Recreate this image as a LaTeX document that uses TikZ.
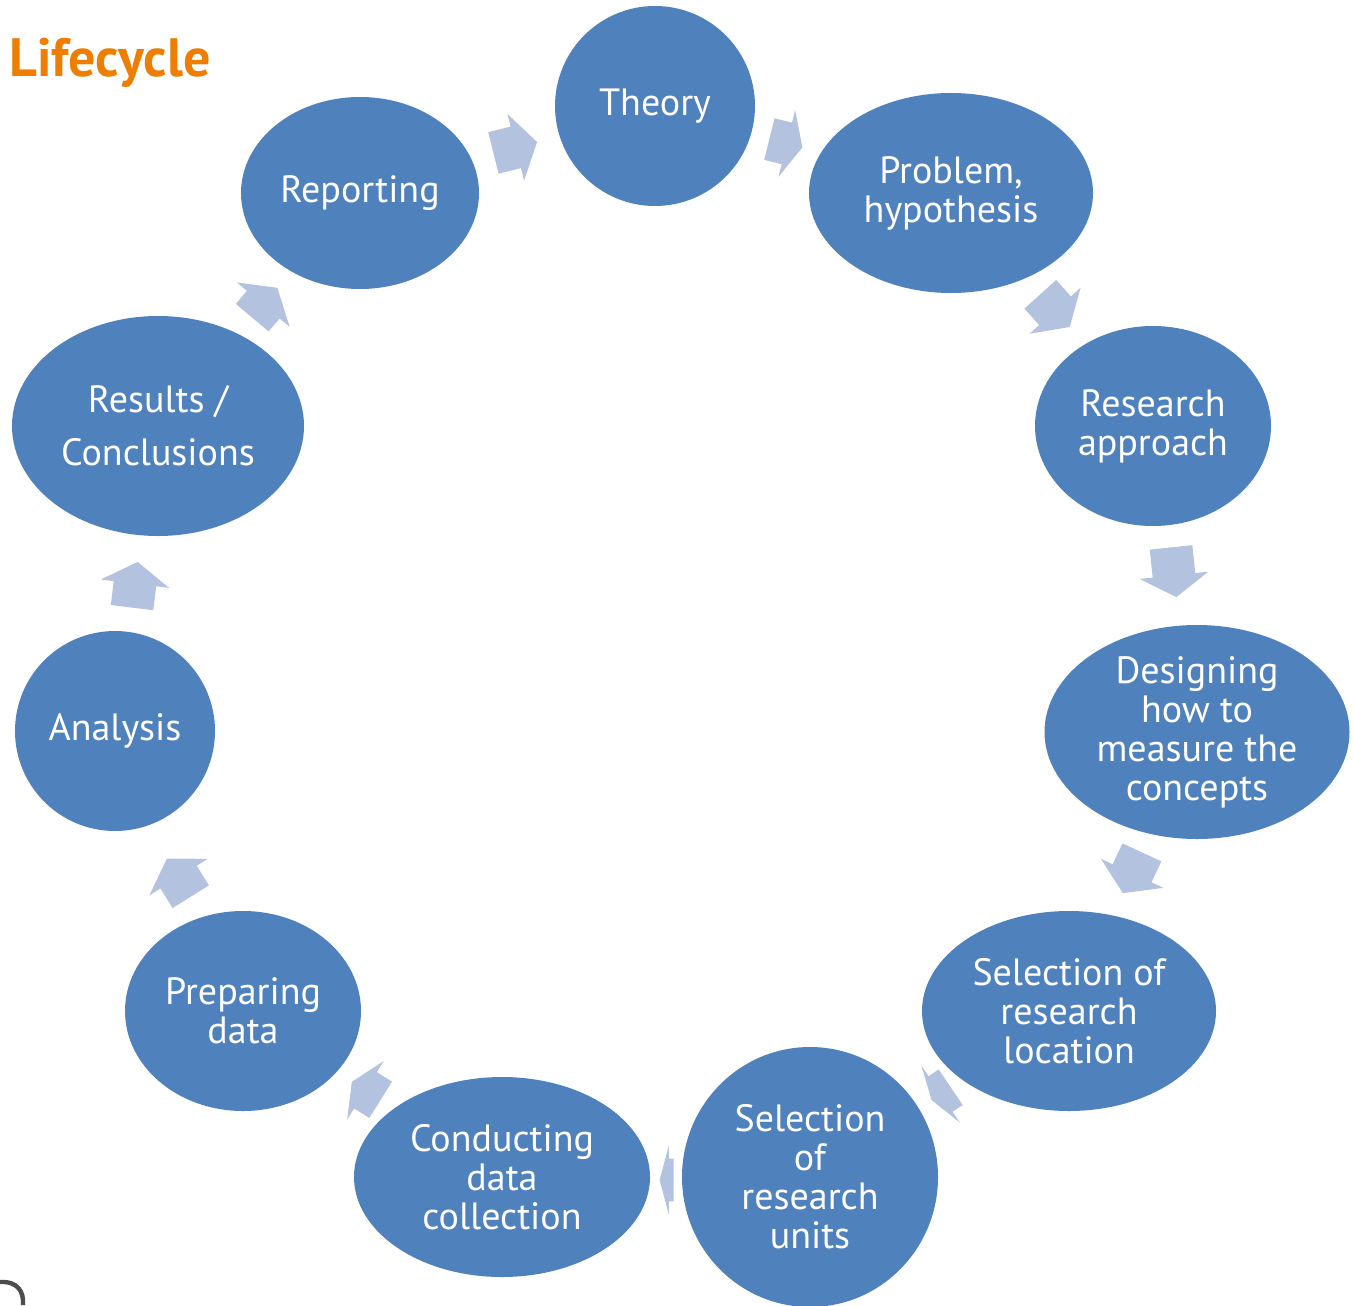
\documentclass[tikz,border=0pt]{standalone}
\usepackage{fontspec}
\setmainfont{PT Sans}
\usetikzlibrary{shapes.geometric,shapes.arrows}
\definecolor{stageblue}{RGB}{79,129,189}
\definecolor{flowblue}{RGB}{178,194,223}
\definecolor{titleorange}{RGB}{238,125,0}

\begin{document}
\begin{tikzpicture}[x=0.5pt,y=-0.5pt,
  stage/.style={ellipse,fill=stageblue,inner sep=0pt},
  stagetext/.style={text=white,align=center,inner sep=0pt,
  font=\fontsize{19}{19.5}\selectfont},
  flow/.style={single arrow,fill=flowblue,inner xsep=0pt,inner ysep=10.5pt,
  single arrow head extend=6.5pt,single arrow tip angle=115,
  minimum height=23pt,anchor=tail}]

  \useasboundingbox (0,0) rectangle (1353,1305);

  \node[anchor=base west,inner sep=0pt,text=titleorange,
    font=\bfseries\fontsize{27}{30}\selectfont] (TL) at (9,77) {Lifecycle};

  % the stages, clockwise from the top
  \node[stage,minimum width=100pt,minimum height=100pt,
    label={[stagetext]center:Theory}] (TH) at (655,106) {};
  \node[stage,minimum width=142pt,minimum height=100pt,
    label={[stagetext]center:Problem,\\hypothesis}] (PH) at (951,193) {};
  \node[stage,minimum width=118pt,minimum height=100pt,
    label={[stagetext]center:Research\\approach}] (RA) at (1153,426) {};
  \node[stage,minimum width=152.5pt,minimum height=107pt,
    label={[stagetext]center:Designing\\how to\\measure the\\concepts}] (DM) at (1197,732) {};
  \node[stage,minimum width=147pt,minimum height=100pt,
    label={[stagetext]center:Selection of\\research\\location}] (SL) at (1069,1011) {};
  \node[stage,minimum width=128pt,minimum height=130pt,
    label={[stagetext]center:Selection\\of\\research\\units}] (SU) at (810,1177) {};
  \node[stage,minimum width=148pt,minimum height=100pt,
    label={[stagetext]center:Conducting\\data\\collection}] (CD) at (502,1177) {};
  \node[stage,minimum width=118pt,minimum height=100pt,
    label={[stagetext]center:Preparing\\data}] (PD) at (243,1011) {};
  \node[stage,minimum width=100pt,minimum height=100pt,
    label={[stagetext]center:Analysis}] (AN) at (115,731) {};
  \node[stage,minimum width=146pt,minimum height=110pt,
    label={[stagetext]center:Results /\\[7pt]Conclusions}] (RC) at (158,426) {};
  \node[stage,minimum width=119pt,minimum height=96pt,
    label={[stagetext]center:Reporting}] (RP) at (360,193) {};

  % block arrows between the stages (placed by their tails)
  \node[flow,rotate=-14,minimum height=17pt,single arrow tip angle=130] (A1) at (769,139) {};
  \node[flow,rotate=-48,minimum height=22pt] (A2) at (1040,294) {};
  \node[flow,rotate=-84,minimum height=25pt] (A3) at (1171,547) {};
  \node[flow,rotate=-115,minimum height=22.5pt] (A4) at (1142,852) {};
  \node[flow,rotate=-146,minimum height=11.5pt,single arrow tip angle=145] (A5) at (951,1087) {};
  \node[flow,rotate=180,minimum height=7pt,single arrow tip angle=150] (A6) at (674,1180) {};
  \node[flow,rotate=148,minimum height=17pt,single arrow tip angle=130] (A7) at (381,1100) {};
  \node[flow,rotate=122,minimum height=22.5pt] (A8) at (191,897) {};
  \node[flow,rotate=83] (A9) at (132,608) {};
  \node[flow,rotate=50,minimum height=19.5pt] (A10) at (252,318) {};
  \node[flow,rotate=14,minimum height=22.5pt] (A11) at (493,153) {};

  % cut-off glyph in the corner
  \draw[line width=2.2pt,black!70] (0,1282) .. controls (18,1281) and (24,1292) .. (23,1305);

\end{tikzpicture}
\end{document}
